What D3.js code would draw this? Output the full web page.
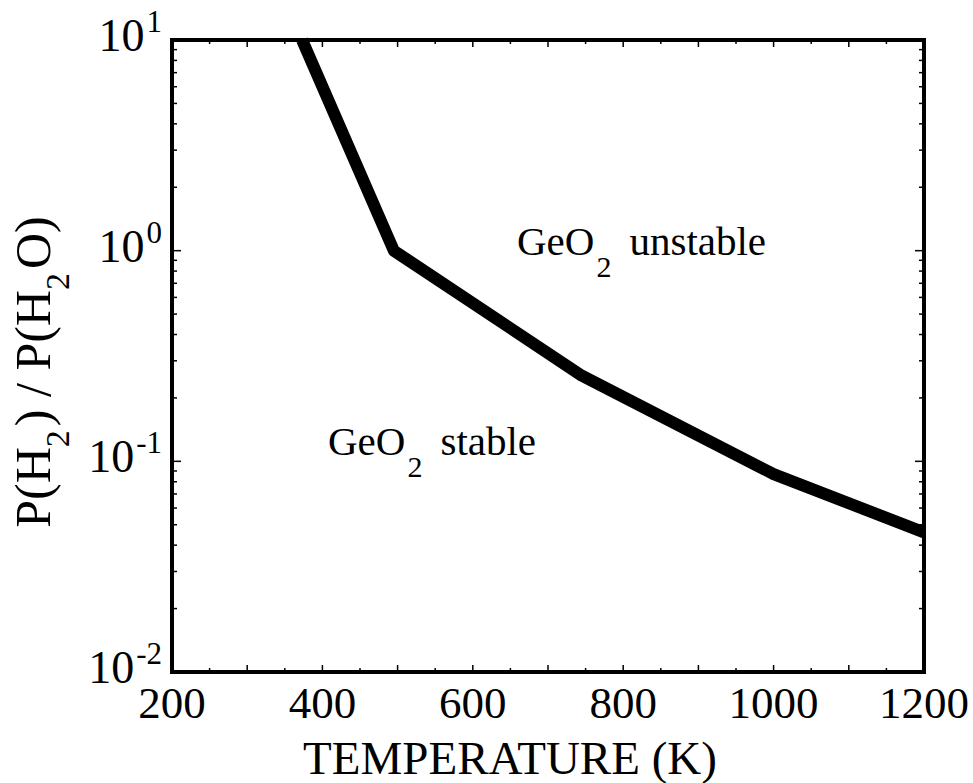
<!DOCTYPE html>
<html>
<head>
<meta charset="utf-8">
<script src="https://cdn.jsdelivr.net/npm/d3@7"></script>
<style>
  body { margin: 0; background: #fff; }
  svg text { font-family: "Liberation Serif", "Times New Roman", serif; fill: #000; }
</style>
</head>
<body>
<div id="chart"></div>
<script>
// boundary curve: temperature (K) vs P(H2)/P(H2O)
const temps = [373, 495, 745, 1000, 1200];
const ratios = [10, 1.0, 0.255, 0.087, 0.046];
const xTicks = [200, 400, 600, 800, 1000, 1200];
const yDecades = [-2, -1, 0, 1];

const W = 973, H = 783;
const margin = {left: 172, right: 49, top: 40, bottom: 111};
const width = W - margin.left - margin.right;
const height = H - margin.top - margin.bottom;

const svg = d3.select("#chart").append("svg")
    .attr("width", W)
    .attr("height", H);
const g = svg.append("g")
    .attr("transform", "translate(" + margin.left + "," + margin.top + ")");

const x = d3.scaleLinear().domain([200, 1200]).range([0, width]);
const y = d3.scaleLog().domain([0.01, 10]).range([height, 0]);

// minor x ticks every 50, major every 100, on bottom and top
const xMinor = d3.range(250, 1200, 50);
g.selectAll(".xt").data(xMinor).enter().append("line")
    .attr("x1", d => x(d)).attr("x2", d => x(d))
    .attr("y1", height).attr("y2", d => height - (d % 100 === 0 ? 7 : 4))
    .attr("stroke", "#000").attr("stroke-width", 1.5);
g.selectAll(".xtt").data(xMinor).enter().append("line")
    .attr("x1", d => x(d)).attr("x2", d => x(d))
    .attr("y1", 0).attr("y2", d => (d % 100 === 0 ? 7 : 4))
    .attr("stroke", "#000").attr("stroke-width", 1.5);

// log minor ticks left and right
const yMinor = [];
[-2, -1, 0].forEach(e => { for (let m = 2; m <= 9; m++) yMinor.push(m * Math.pow(10, e)); });
yMinor.push(1, 0.1);
g.selectAll(".yl").data(yMinor).enter().append("line")
    .attr("x1", 0).attr("x2", d => ([1, 0.1].includes(d) ? 9 : 5))
    .attr("y1", d => y(d)).attr("y2", d => y(d))
    .attr("stroke", "#000").attr("stroke-width", 1.5);
g.selectAll(".yr").data(yMinor).enter().append("line")
    .attr("x1", width).attr("x2", d => width - ([1, 0.1].includes(d) ? 9 : 5))
    .attr("y1", d => y(d)).attr("y2", d => y(d))
    .attr("stroke", "#000").attr("stroke-width", 1.5);

// the curve
const line = d3.line()
    .x((d, i) => x(temps[i]))
    .y(d => y(d));
g.append("path")
    .attr("d", line(ratios))
    .attr("fill", "none")
    .attr("stroke", "#000")
    .attr("stroke-width", 12)
    .attr("stroke-linejoin", "round");

// frame
g.append("rect")
    .attr("width", width).attr("height", height)
    .attr("fill", "none").attr("stroke", "#000").attr("stroke-width", 4);

// x tick labels
g.selectAll(".xl").data(xTicks).enter().append("text")
    .attr("x", d => x(d)).attr("y", height + 46)
    .attr("text-anchor", "middle")
    .style("font-size", "45px")
    .text(d => d);

// y tick labels 10^n
const yl = g.selectAll(".ylab").data(yDecades).enter().append("text")
    .attr("x", -10).attr("y", d => y(Math.pow(10, d)) + 11)
    .attr("text-anchor", "end")
    .style("font-size", "46px");
yl.append("tspan").text("10");
yl.append("tspan").attr("dy", -19).attr("dx", 2).style("font-size", "31px").text(d => d);

// axis titles
g.append("text")
    .attr("x", width / 2 - 38).attr("y", height + 102)
    .attr("text-anchor", "middle")
    .style("font-size", "47px")
    .text("TEMPERATURE (K)");

const yt = svg.append("text")
    .attr("transform", "translate(50," + (margin.top + height / 2 + 16) + ") rotate(-90)")
    .attr("text-anchor", "middle")
    .style("font-size", "50px");
yt.append("tspan").text("P(H");
yt.append("tspan").attr("dy", 19).style("font-size", "34px").text("2");
yt.append("tspan").attr("dy", -19).attr("dx", 4).text(") / P(H");
yt.append("tspan").attr("dy", 19).style("font-size", "34px").text("2");
yt.append("tspan").attr("dy", -19).attr("dx", 4).text("O)");

// region labels
function regionLabel(px, py, word) {
  const t = svg.append("text").attr("x", px).attr("y", py).style("font-size", "41px");
  t.append("tspan").text("GeO");
  t.append("tspan").attr("dy", 22).attr("dx", 2).style("font-size", "30px").text("2");
  t.append("tspan").attr("dy", -22).attr("dx", 18).text(word);
}
regionLabel(517, 255, "unstable");
regionLabel(328, 455, "stable");
</script>
</body>
</html>
